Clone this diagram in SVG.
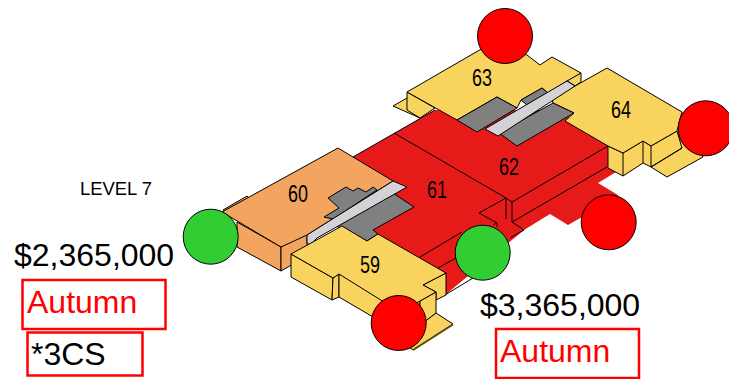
<svg xmlns="http://www.w3.org/2000/svg" width="729" height="379" viewBox="0 0 729 379">
<style>
.y{fill:#f8d45e;stroke:#000;stroke-width:1;stroke-linejoin:round}
.o{fill:#f3a55f;stroke:#000;stroke-width:1;stroke-linejoin:round}
.rn{fill:#e71a1a;stroke:none}
.g{fill:#808080;stroke:#000;stroke-width:1;stroke-linejoin:round}
.l{fill:#d4d2d6;stroke:#000;stroke-width:1;stroke-linejoin:round}
.ln{fill:none;stroke:#000;stroke-width:1}
.cr{fill:#ff0000;stroke:#000;stroke-width:1}
.cg{fill:#32cd32;stroke:#000;stroke-width:1}
.n{font-family:"Liberation Sans",Arial,sans-serif;font-size:23px;fill:#000;text-anchor:middle}
.t{font-family:"Liberation Sans",Arial,sans-serif;font-size:32px}
.b{fill:#fff;stroke:#ff0000;stroke-width:2.5}
</style>
<g id="connectors"/>
<g id="unit-61-62-base">
<polygon class="rn" points="353,157 435,110 500,110 560,110 608,146 622,154 623,176 616,172 598,183 618,195 608,222 582,217 568,225 550,214 524,230 445,295 436,300 420,270 367,241 353,200"/>
<polyline class="ln" points="353,157 435,110"/>
<polyline class="ln" points="394,133 506,198 512,202 608,146"/>
<polyline class="ln" points="512,202 512,222 607,167"/>
<polyline class="ln" points="506,198 506,219"/>
<polyline class="ln" points="512,222 524,230 510,238"/>
<polyline class="ln" points="420,257 462,232"/>
<polyline class="ln" points="493,225 497,223 497,227"/>
<polyline class="ln" points="479,213 506,198"/>
<polyline class="ln" points="479,213 497,223"/>
<polyline class="ln" points="438,268 456,258"/>
<polyline class="ln" points="445,272 445,295 473,278"/>
</g>
<g id="unit-63">
<polygon class="y" points="393,106 407,98 420,118"/>
<polygon class="y" points="407,92 435,108 420,118 407,110"/>
<polygon class="y" points="581,73 581,82 575,86 566,80"/>
<polygon class="y" points="407,92 490,44 527,55 540,65 552,57 581,73 567,81 548,93 542,88 521,100 517,108 497,97 457,120"/>
<polygon class="g" points="457,120 497,97 517,108 477,132"/>
<polygon class="g" points="521,100 542,88 548,93 527,105"/>
<text class="n" x="482" y="86" textLength="20" lengthAdjust="spacingAndGlyphs">63</text>
</g>
<g id="unit-62"><text class="n" x="509" y="175" textLength="20" lengthAdjust="spacingAndGlyphs">62</text></g>
<g id="unit-64">
<polygon class="y" points="651,167 667,177 703,157 690,130 651,146"/>
<polygon class="y" points="608,146 623,153 643,141 651,146 677,131 682,148 651,167 643,163 623,176 608,168"/>
<polyline class="ln" points="623,153 623,176"/>
<polyline class="ln" points="643,141 643,163"/>
<polyline class="ln" points="651,146 651,167"/>
<polyline class="ln" points="651,167 682,148"/>
<polygon class="y" points="552,99 607,68 682,112 677,131 651,146 643,141 623,153 608,146 565,121 574,113 553,103"/>
<polygon class="g" points="499,133 553,103 574,113 517,146"/>
<polygon class="l" points="485,129 567,81 575,86 498,136"/>
<text class="n" x="621" y="118" textLength="20" lengthAdjust="spacingAndGlyphs">64</text>
</g>
<g id="unit-61"><text class="n" x="437" y="198" textLength="20" lengthAdjust="spacingAndGlyphs">61</text></g>
<g id="unit-60">
<polygon class="o" points="223,210 247,196 249,198 240,222"/>
<polygon class="o" points="237,222 281,247 281,271 237,247"/>
<polygon class="o" points="281,247 307,232 307,256 281,271"/>
<polygon class="o" points="222,212 338,148 393,181 307,235 281,247"/>
<polygon class="g" points="328,198 346,187 353,191 358,188 366,192 373,187 377,190 333,219 324,217 339,208"/>
<polygon class="g" points="336,226 393,193 414,207 373,230 378,234 367,241"/>
<polygon class="l" points="307,235 393,181 407,187 317,238 310,245 307,243"/>
<text class="n" x="298" y="202" textLength="20" lengthAdjust="spacingAndGlyphs">60</text>
</g>
<g id="unit-59">
<polygon class="y" points="436,313 453,324 413,350 400,340"/>
<path d="M453 324.500L413 350" fill="none" stroke="#5a4a10" stroke-width="2"/>
<polygon class="y" points="446,273 423,285 436,292 436,300 446,295"/>
<polygon class="y" points="291,254 291,277 332,300 333,278"/>
<polygon class="y" points="333,278 339,274 339,297 332,300"/>
<polygon class="y" points="339,274 339,297 385,324 420,325 420,301"/>
<polygon class="y" points="420,301 436,292 436,313 420,325"/>
<polygon class="y" points="291,254 342,226 367,241 378,234 446,273 423,285 436,292 420,301 400,312 339,274 333,278"/>
<text class="n" x="370" y="273" textLength="20" lengthAdjust="spacingAndGlyphs">59</text>
</g>
<g id="marker-1"><circle class="cr" cx="505" cy="36" r="27.500"/></g>
<g id="marker-2"><circle class="cr" cx="705.700" cy="128.300" r="27.500"/></g>
<g id="marker-3"><circle class="cr" cx="608.700" cy="222.300" r="27.500"/></g>
<g id="marker-4"><circle class="cr" cx="398.700" cy="323" r="27.500"/></g>
<g id="marker-5"><circle class="cg" cx="210.700" cy="236.700" r="27.500"/></g>
<g id="marker-6"><circle class="cg" cx="482.700" cy="252.700" r="27.500"/></g>
<g id="level"><text x="80" y="195" font-family="'Liberation Sans',Arial,sans-serif" font-size="19" fill="#000" textLength="72" lengthAdjust="spacingAndGlyphs">LEVEL 7</text></g>
<g id="info-left">
<text class="t" x="14" y="266" fill="#000">$2,365,000</text>
<rect class="b" x="22.500" y="280" width="143" height="49"/>
<text class="t" x="27" y="313" fill="#ff0000">Autumn</text>
<rect class="b" x="27.500" y="332.500" width="115" height="43"/>
<text class="t" x="31" y="365" fill="#000">*3CS</text>
</g>
<g id="info-right">
<text class="t" x="480" y="316" fill="#000">$3,365,000</text>
<rect class="b" x="496" y="329" width="143" height="49"/>
<text class="t" x="500" y="362" fill="#ff0000">Autumn</text>
</g>
</svg>
